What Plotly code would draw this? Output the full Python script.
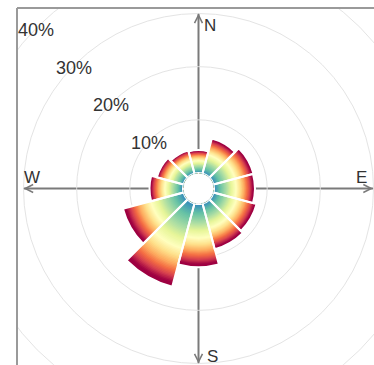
import plotly.graph_objects as go

# ---- data ----
directions = [0, 30, 60, 90, 120, 150, 180, 210, 240, 270, 300, 330]
frequency_pct = [4.3, 6.8, 7.8, 7.7, 8.4, 8.9, 11.9, 16.2, 11.8, 6.3, 5.2, 4.5]
ring_values = [10, 20, 30, 40]
ring_labels = ["10%", "20%", "30%", "40%"]
compass_labels = ["N", "E", "S", "W"]
spectral_r = ["#3288bd", "#66c2a5", "#abdda4", "#e6f598", "#ffffbf",
              "#fee08b", "#fdae61", "#f46d43", "#d53e4f", "#9e0142", "#9e0142"]
spectral_pos = [0.0, 0.15, 0.30, 0.42, 0.54, 0.64, 0.73, 0.81, 0.88, 0.95, 1.0]

# ---- geometry (pixels) ----
W, H = 374, 365
CX, CY = 198.5, 188.5
R_OUT = 175.0
HOLE = 15.5
RMAX = 30
N_STEPS = 60
FRAME_X, FRAME_Y = 17, 8


def px_r(v):
    return HOLE + v / RMAX * (R_OUT - HOLE)


def px(x):
    return x / W


def py(y):
    return 1 - y / H


def hex_rgb(h):
    h = h.lstrip("#")
    return [int(h[i:i + 2], 16) for i in (0, 2, 4)]


def interp(t):
    stops = [hex_rgb(c) for c in spectral_r]
    t = min(max(t, 0.0), 1.0)
    for j in range(len(stops) - 1):
        if spectral_pos[j] <= t <= spectral_pos[j + 1]:
            f = (t - spectral_pos[j]) / (spectral_pos[j + 1] - spectral_pos[j])
            a, b = stops[j], stops[j + 1]
            return "rgb(%d,%d,%d)" % tuple(round(a[i] + (b[i] - a[i]) * f) for i in range(3))
    return spectral_r[-1]


colors = [interp((i + 0.5) / N_STEPS) for i in range(N_STEPS)]

fig = go.Figure()
# overlay: full-length bar first, then ever shorter ones on top -> radial gradient
for k in range(N_STEPS, 0, -1):
    c = colors[k - 1]
    fig.add_trace(go.Barpolar(
        theta=directions,
        r=[v * k / N_STEPS for v in frequency_pct],
        width=30,
        marker=dict(color=c, line=dict(width=0)),
        hoverinfo="skip", showlegend=False,
    ))
# white separators between sectors
fig.add_trace(go.Barpolar(
    theta=directions, r=frequency_pct, width=30,
    marker=dict(color="rgba(0,0,0,0)", line=dict(color="white", width=2)),
    hoverinfo="skip", showlegend=False,
))

grid_light = "#e4e4e4"
axis_grey = "#7a7a7a"

fig.update_layout(
    width=W, height=H,
    margin=dict(l=0, r=0, t=0, b=0),
    paper_bgcolor="white",
    polar=dict(
        domain=dict(x=[px(CX - R_OUT), px(CX + R_OUT)],
                    y=[py(CY + R_OUT), py(CY - R_OUT)]),
        hole=HOLE / R_OUT,
        barmode="overlay",
        bgcolor="white",
        radialaxis=dict(range=[0, RMAX], tickvals=ring_values[:3],
                        showticklabels=False, ticks="", showline=False,
                        gridcolor=grid_light, gridwidth=1, layer="below traces"),
        angularaxis=dict(rotation=90, direction="clockwise",
                         tickvals=[0, 90, 180, 270], showticklabels=False,
                         ticks="", gridcolor=axis_grey, gridwidth=1.5,
                         showline=True, linecolor=grid_light, linewidth=1,
                         layer="below traces"),
    ),
)

shapes = []
r40 = px_r(ring_values[3])
shapes.append(dict(type="circle", xref="paper", yref="paper", layer="below",
                   x0=px(CX - r40), x1=px(CX + r40), y0=py(CY + r40), y1=py(CY - r40),
                   line=dict(color=grid_light, width=1)))
# clip outside frame
shapes.append(dict(type="rect", xref="paper", yref="paper", layer="above",
                   x0=-0.2, x1=px(FRAME_X), y0=-0.2, y1=1.2,
                   fillcolor="white", line=dict(width=0)))
shapes.append(dict(type="rect", xref="paper", yref="paper", layer="above",
                   x0=-0.2, x1=1.2, y0=py(FRAME_Y), y1=1.2,
                   fillcolor="white", line=dict(width=0)))
frame_col = "#9a9a9a"
shapes.append(dict(type="line", xref="paper", yref="paper", layer="above",
                   x0=px(FRAME_X), x1=px(FRAME_X), y0=-0.1, y1=py(FRAME_Y),
                   line=dict(color=frame_col, width=2)))
shapes.append(dict(type="line", xref="paper", yref="paper", layer="above",
                   x0=px(FRAME_X), x1=1.1, y0=py(FRAME_Y), y1=py(FRAME_Y),
                   line=dict(color=frame_col, width=2)))
fig.update_layout(shapes=shapes)

font = dict(family="Liberation Sans, Arial, sans-serif", size=18, color="#333333")
ann = []
c45 = 0.70710678
for v, lab in zip(ring_values, ring_labels):
    rr = px_r(v)
    ann.append(dict(xref="paper", yref="paper", x=px(CX - rr * c45 - 1),
                    y=py(CY - rr * c45 + 3), text=lab, showarrow=False,
                    xanchor="center", yanchor="middle", font=font))

# compass labels
cfont = dict(family="Liberation Sans, Arial, sans-serif", size=17, color="#333333")
comp_pos = {"N": (210, 25), "E": (361, 177.5), "S": (213, 356.5), "W": (31.5, 177.5)}
for lab in compass_labels:
    x, y = comp_pos[lab]
    ann.append(dict(xref="paper", yref="paper", x=px(x), y=py(y), text=lab,
                    showarrow=False, xanchor="center", yanchor="middle", font=cfont))

# arrow heads at the axis ends
tips = [(CX, CY - R_OUT, 0, 8), (CX + R_OUT, CY, -8, 0),
        (CX, CY + R_OUT, 0, -8), (CX - R_OUT, CY, 8, 0)]
for x, y, ax, ay in tips:
    ann.append(dict(xref="paper", yref="paper", x=px(x), y=py(y), text="",
                    showarrow=True, ax=ax, ay=ay, arrowhead=5, arrowsize=1.3,
                    arrowwidth=1.2, arrowcolor=axis_grey, standoff=0))
fig.update_layout(annotations=ann)

fig.write_html("out.html")
